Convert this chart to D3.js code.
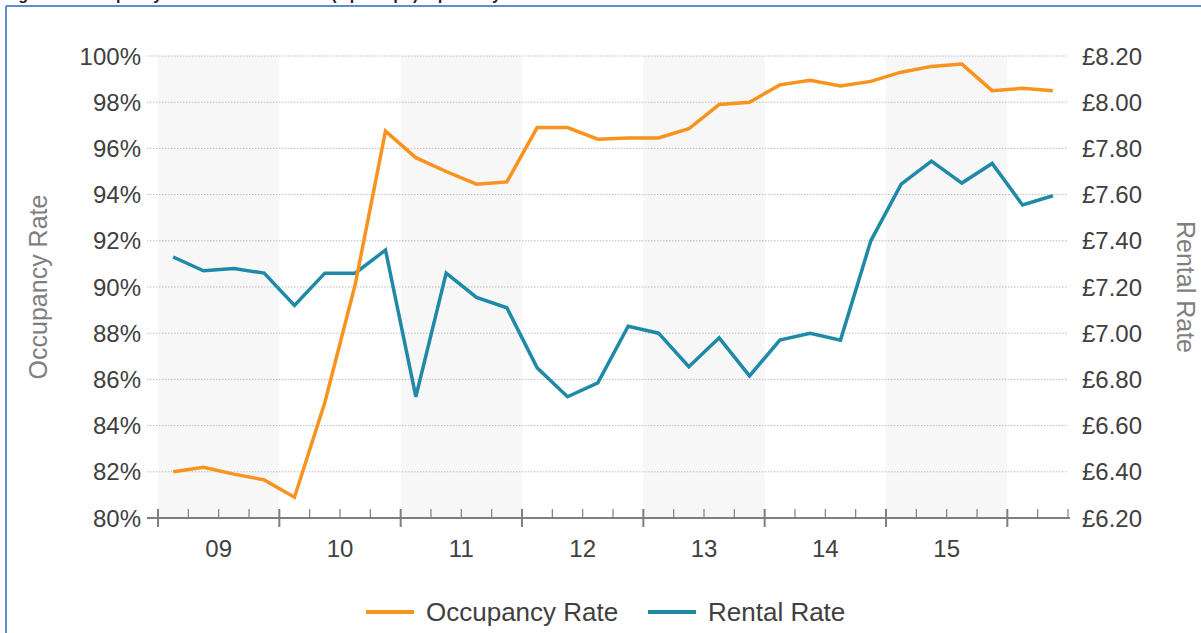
<!DOCTYPE html>
<html>
<head>
<meta charset="utf-8">
<script src="https://cdn.jsdelivr.net/npm/d3@7"></script>
<style>
  html, body { margin: 0; padding: 0; background: #fff; }
  svg { display: block; font-family: "Liberation Sans", Arial, sans-serif; }
</style>
</head>
<body>
<svg id="chart"></svg>
<script>
"use strict";

// quarterly values, Q1 2009 .. Q2 2016
var years = ['09', '10', '11', '12', '13', '14', '15'];
var occupancy = [
  82.0, 82.2, 81.9, 81.65, 80.9, 85.0, 90.1, 96.75,
  95.6, 95.0, 94.45, 94.55, 96.9, 96.9, 96.4, 96.45,
  96.45, 96.85, 97.9, 98.0, 98.75, 98.95, 98.7, 98.9,
  99.3, 99.55, 99.65, 98.5, 98.6, 98.5
];
var rental = [
  7.33, 7.27, 7.28, 7.26, 7.12, 7.26, 7.26, 7.36,
  6.725, 7.26, 7.155, 7.11, 6.85, 6.725, 6.785, 7.03,
  7.0, 6.855, 6.98, 6.815, 6.97, 7.0, 6.97, 7.4,
  7.645, 7.745, 7.65, 7.735, 7.555, 7.595
];
var occTicks = [80, 82, 84, 86, 88, 90, 92, 94, 96, 98, 100];
var rentTicks = [6.2, 6.4, 6.6, 6.8, 7.0, 7.2, 7.4, 7.6, 7.8, 8.0, 8.2];
var seriesNames = ['Occupancy Rate', 'Rental Rate'];

var W = 1201, H = 633;
var colors = { occ: '#f7931e', rent: '#1f8aa7' };
var nQuarters = occupancy.length;

var svg = d3.select('#chart').attr('width', W).attr('height', H);

// frame + title (sits mostly above the visible area, as in the source)
svg.append('text')
  .attr('x', 4).attr('y', 0)
  .attr('font-size', 16).attr('font-weight', 'bold').attr('fill', '#222')
  .text('Figure 3: Occupancy Rate and Rental Rate (£ per sq ft) - quarterly');
svg.append('line')
  .attr('x1', 6).attr('x2', W).attr('y1', 6).attr('y2', 6)
  .attr('stroke', '#5b8ed4').attr('stroke-width', 2);
svg.append('line')
  .attr('x1', 6).attr('x2', 6).attr('y1', 6).attr('y2', H)
  .attr('stroke', '#5b8ed4').attr('stroke-width', 2);

var x = d3.scaleLinear().domain([0, nQuarters]).range([158, 1068]);
var yL = d3.scaleLinear().domain([80, 100]).range([518, 56]);
var yR = d3.scaleLinear().domain([6.2, 8.2]).range([518, 56]);

// shaded year bands
svg.append('g').selectAll('rect')
  .data(years.filter(function (d, i) { return i % 2 === 0; }))
  .enter().append('rect')
  .attr('x', function (d) { return x(years.indexOf(d) * 4); })
  .attr('width', x(4) - x(0))
  .attr('y', 56).attr('height', 518 - 56)
  .attr('fill', '#f7f7f7');

// grid
svg.append('g').selectAll('line')
  .data(occTicks.slice(1))
  .enter().append('line')
  .attr('x1', 147).attr('x2', 1068)
  .attr('y1', function (d) { return yL(d); })
  .attr('y2', function (d) { return yL(d); })
  .attr('stroke', '#bdbdbd').attr('stroke-width', 1)
  .attr('stroke-dasharray', '1.5,1.5');

// left axis labels
svg.append('g').selectAll('text')
  .data(occTicks)
  .enter().append('text')
  .attr('x', 141)
  .attr('y', function (d) { return yL(d); })
  .attr('dy', '0.36em')
  .attr('text-anchor', 'end')
  .attr('font-size', 24).attr('fill', '#404040')
  .text(function (d) { return d + '%'; });

// right axis labels
svg.append('g').selectAll('text')
  .data(rentTicks)
  .enter().append('text')
  .attr('x', 1082)
  .attr('y', function (d) { return yR(d); })
  .attr('dy', '0.36em')
  .attr('font-size', 24).attr('fill', '#404040')
  .text(function (d) { return '£' + d.toFixed(2); });

// x axis
var xAxis = svg.append('g');
xAxis.append('line')
  .attr('x1', 147).attr('x2', 1070).attr('y1', 518).attr('y2', 518)
  .attr('stroke', '#7f7f7f').attr('stroke-width', 2);
xAxis.selectAll('line.tick')
  .data(d3.range(0, nQuarters + 1))
  .enter().append('line')
  .attr('class', 'tick')
  .attr('x1', function (d) { return x(d); })
  .attr('x2', function (d) { return x(d); })
  .attr('y1', 509)
  .attr('y2', function (d) { return d % 4 === 0 ? 527 : 518; })
  .attr('stroke', '#7f7f7f')
  .attr('stroke-width', function (d) { return d % 4 === 0 ? 2 : 1.2; });
xAxis.selectAll('text')
  .data(years)
  .enter().append('text')
  .attr('x', function (d, i) { return x(i * 4 + 2); })
  .attr('y', 548)
  .attr('dy', '0.36em')
  .attr('text-anchor', 'middle')
  .attr('font-size', 24).attr('fill', '#404040')
  .text(function (d) { return d; });

// axis titles
svg.append('text')
  .attr('transform', 'translate(38,287) rotate(-90)')
  .attr('dy', '0.36em')
  .attr('text-anchor', 'middle')
  .attr('font-size', 25).attr('fill', '#7f7f7f')
  .text('Occupancy Rate');
svg.append('text')
  .attr('transform', 'translate(1186,287) rotate(90)')
  .attr('dy', '0.36em')
  .attr('text-anchor', 'middle')
  .attr('font-size', 25).attr('fill', '#7f7f7f')
  .text('Rental Rate');

// lines
var occLine = d3.line()
  .x(function (d, i) { return x(i + 0.5); })
  .y(function (d) { return yL(d); });
var rentLine = d3.line()
  .x(function (d, i) { return x(i + 0.5); })
  .y(function (d) { return yR(d); });

svg.append('path')
  .datum(rental)
  .attr('d', rentLine)
  .attr('fill', 'none')
  .attr('stroke', colors.rent).attr('stroke-width', 3.5)
  .attr('stroke-linejoin', 'miter');
svg.append('path')
  .datum(occupancy)
  .attr('d', occLine)
  .attr('fill', 'none')
  .attr('stroke', colors.occ).attr('stroke-width', 3.5)
  .attr('stroke-linejoin', 'miter');

// legend
var legend = svg.append('g');
var legendX = [366, 648];
var legendColors = [colors.occ, colors.rent];
seriesNames.forEach(function (name, i) {
  legend.append('line')
    .attr('x1', legendX[i]).attr('x2', legendX[i] + 48)
    .attr('y1', 612).attr('y2', 612)
    .attr('stroke', legendColors[i]).attr('stroke-width', 4);
  legend.append('text')
    .attr('x', legendX[i] + 60).attr('y', 612)
    .attr('dy', '0.36em')
    .attr('font-size', 26).attr('fill', '#404040')
    .text(name);
});
</script>
</body>
</html>
